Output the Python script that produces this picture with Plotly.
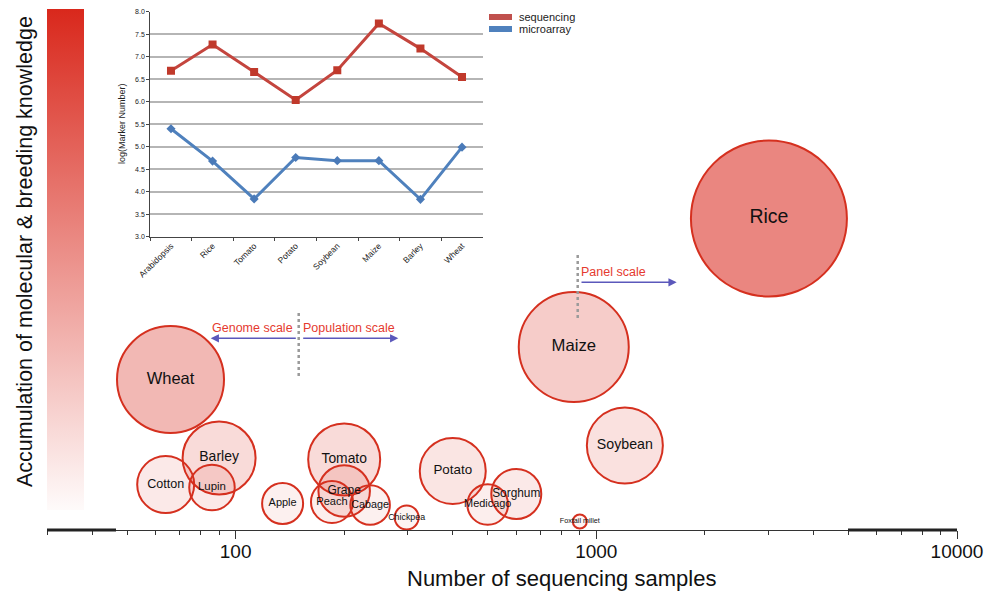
import math
import plotly.graph_objects as go

# ---------------- data: main bubble chart ----------------
crops = ["Rice", "Maize", "Wheat", "Soybean", "Barley", "Tomato", "Potato", "Cotton",
         "Lupin", "Grape", "Sorghum", "Apple", "Peach", "Cabage", "Medicago",
         "Chickpea", "Foxtail millet"]
seq_samples = [3010, 866, 66, 1200, 90, 200, 400, 64, 86, 200, 600, 135, 185, 236, 500, 298, 900]
knowledge = [62.3, 36.6, 30.1, 16.9, 14.4, 14.1, 11.8, 9.1, 8.5, 7.8, 7.2, 5.3, 5.6, 5.0, 5.1, 2.5, 1.7]
bubble_size = [156, 110, 107, 76, 73, 72, 66, 57, 45.5, 51.5, 50, 41, 42, 39.5, 40.7, 24, 14]
color_level = [0.55, 0.22, 0.32, 0.12, 0.15, 0.15, 0.10, 0.08, 0.08, 0.10, 0.08, 0.05, 0.06,
               0.05, 0.06, 0.03, 0.03]

x_tick_vals = [100, 1000, 10000]
x_tick_text = ["100", "1000", "10000"]

# ---------------- data: inset line chart ----------------
inset_cats = ["Arabidopsis", "Rice", "Tomato", "Potato", "Soybean", "Maize", "Barley", "Wheat"]
sequencing = [6.69, 7.27, 6.66, 6.04, 6.70, 7.74, 7.18, 6.55]
microarray = [5.40, 4.68, 3.84, 4.76, 4.69, 4.69, 3.83, 4.99]

# ---------------- layout helpers ----------------
W, H = 1002, 591
L, R, T, B = 47, 45, 10, 61
PW, PH = W - L - R, H - T - B


def px(x):
    return (x - L) / PW


def py(y):
    return (H - B - y) / PH


FONT = "Liberation Sans, Arial, Helvetica, sans-serif"
NARROW = "Liberation Sans Narrow, Arial Narrow, Liberation Sans, Arial, sans-serif"
RED_TXT = "#e53a2f"
ARROW = "#5b58bb"

minor_vals = [v * m for m in (10, 100, 1000) for v in range(2, 10) if 30 <= v * m < 10000 and v * m not in x_tick_vals]
minor_vals = [30] + [v for v in minor_vals if v > 30]

label_sizes = [2 + 1.4 * math.sqrt(s) for s in bubble_size]

fig = go.Figure()

fig.add_trace(go.Scatter(
    x=seq_samples, y=knowledge, mode="markers+text", text=crops,
    textposition="middle center",
    textfont=dict(family=FONT, size=label_sizes, color="#111"),
    marker=dict(
        size=bubble_size, sizemode="diameter", sizeref=1, opacity=1,
        color=color_level, cmin=0, cmax=1,
        colorscale=[[0, "rgba(217,40,28,0.02)"], [1, "rgba(217,40,28,1)"]],
        line=dict(color="#d5301f", width=2),
        showscale=True,
        colorbar=dict(
            x=px(47), xanchor="left", xpad=0, ypad=0,
            y=py(259.5), yanchor="middle",
            thickness=37, thicknessmode="pixels",
            len=501, lenmode="pixels",
            outlinewidth=0, showticklabels=False, ticks="",
        ),
    ),
    showlegend=False, hoverinfo="text",
))

fig.add_trace(go.Scatter(
    x=inset_cats, y=sequencing, mode="lines+markers", name="sequencing",
    xaxis="x2", yaxis="y2",
    line=dict(color="#c4453e", width=3),
    marker=dict(symbol="square", size=8, color="#c0392b"),
    showlegend=False,
))
fig.add_trace(go.Scatter(
    x=inset_cats, y=microarray, mode="lines+markers", name="microarray",
    xaxis="x2", yaxis="y2",
    line=dict(color="#4f81bd", width=3),
    marker=dict(symbol="diamond", size=7, color="#4a7ab8"),
    showlegend=False,
))

shapes = []
annotations = []

# axis thick segments
shapes.append(dict(type="line", xref="paper", yref="paper", x0=px(47), x1=px(116), y0=0, y1=0,
                   line=dict(color="#222", width=3)))
shapes.append(dict(type="line", xref="paper", yref="paper", x0=px(848), x1=px(957), y0=0, y1=0,
                   line=dict(color="#222", width=3)))

# dotted dividers
for xx, y0, y1 in [(298.7, 311, 376), (577.7, 254, 318)]:
    shapes.append(dict(type="line", xref="paper", yref="paper", x0=px(xx), x1=px(xx),
                       y0=py(y1), y1=py(y0), line=dict(color="#9a9a9a", width=2.5, dash="dot")))

# arrows (head, tail)
for hx, tx, yy in [(210.7, 297.3, 338.3), (398.3, 301.7, 338.3), (676.7, 580, 282.3)]:
    annotations.append(dict(xref="paper", yref="paper", x=px(hx), y=py(yy), text="",
                            showarrow=True, axref="pixel", ayref="pixel", ax=tx - hx, ay=0,
                            arrowhead=2, arrowsize=1.1, arrowwidth=1.5, arrowcolor=ARROW))

for txt, xx, yy in [("Genome scale", 252.5, 327.7), ("Population scale", 349, 327.7),
                    ("Panel scale", 613.7, 271.7)]:
    annotations.append(dict(xref="paper", yref="paper", x=px(xx), y=py(yy), text=txt,
                            showarrow=False, xanchor="center", yanchor="middle",
                            font=dict(family=FONT, size=12.5, color=RED_TXT)))

# y label
annotations.append(dict(xref="paper", yref="paper", x=px(25), y=py(252), text="Accumulation of molecular &amp; breeding knowledge",
                        textangle=-90, showarrow=False, xanchor="center", yanchor="middle",
                        font=dict(family=FONT, size=21.5, color="#111")))

# x title
annotations.append(dict(xref="paper", yref="paper", x=px(561), y=py(578), text="Number of sequencing samples",
                        showarrow=False, xanchor="center", yanchor="middle",
                        font=dict(family=NARROW, size=22, color="#111")))

# inset y title
annotations.append(dict(xref="paper", yref="paper", x=px(122), y=py(124), text="log(Marker Number)",
                        textangle=-90, showarrow=False, xanchor="center", yanchor="middle",
                        font=dict(family=FONT, size=9, color="#222")))

# inset legend (manual)
for txt, col, yy in [("sequencing", "#c0504d", 17), ("microarray", "#4f81bd", 29)]:
    shapes.append(dict(type="line", xref="paper", yref="paper", x0=px(489), x1=px(512),
                       y0=py(yy), y1=py(yy), line=dict(color=col, width=6)))
    annotations.append(dict(xref="paper", yref="paper", x=px(517), y=py(yy), text=txt,
                            showarrow=False, xanchor="left", yanchor="middle",
                            font=dict(family=FONT, size=11, color="#222")))

fig.update_layout(
    width=W, height=H, autosize=False,
    margin=dict(l=L, r=R, t=T, b=B, pad=0, autoexpand=False),
    paper_bgcolor="white", plot_bgcolor="rgba(0,0,0,0)",
    font=dict(family=FONT, color="#222"),
    shapes=shapes, annotations=annotations,
    xaxis=dict(
        type="log", range=[math.log10(30), 4], automargin=False,
        tickvals=x_tick_vals, ticktext=x_tick_text,
        ticks="outside", ticklen=8, tickwidth=1.2, tickcolor="#333",
        ticklabelstandoff=-4,
        showline=True, linecolor="#333", linewidth=1.2,
        showgrid=False, zeroline=False,
        tickfont=dict(family=NARROW, size=19, color="#111"),
        minor=dict(tickvals=minor_vals, ticks="outside", ticklen=4, tickwidth=1, tickcolor="#333",
                   showgrid=False),
    ),
    yaxis=dict(range=[0, 104], visible=False, fixedrange=True, automargin=False),
    xaxis2=dict(
        domain=[px(150.2), px(482.8)], anchor="y2", automargin=False,
        type="category", range=[-0.5, 7.5],
        showline=True, linecolor="#444", linewidth=1,
        ticks="outside", tickson="boundaries", ticklen=3, tickcolor="#444",
        tickangle=-45, tickfont=dict(family=FONT, size=8.5, color="#222"),
        showgrid=False, zeroline=False,
    ),
    yaxis2=dict(
        domain=[py(236.7), py(11.7)], anchor="x2", automargin=False,
        range=[3, 8], dtick=0.5, tickformat=".1f",
        showline=True, linecolor="#444", linewidth=1,
        ticks="outside", ticklen=3, tickcolor="#444",
        showgrid=True, gridcolor="#b5b5b5", gridwidth=1.5,
        tickfont=dict(family=FONT, size=7, color="#222"),
        zeroline=False,
    ),
)

fig.write_html("out.html", config={"displayModeBar": False},
               post_script="document.body.style.margin='0';document.body.style.overflow='hidden';")
